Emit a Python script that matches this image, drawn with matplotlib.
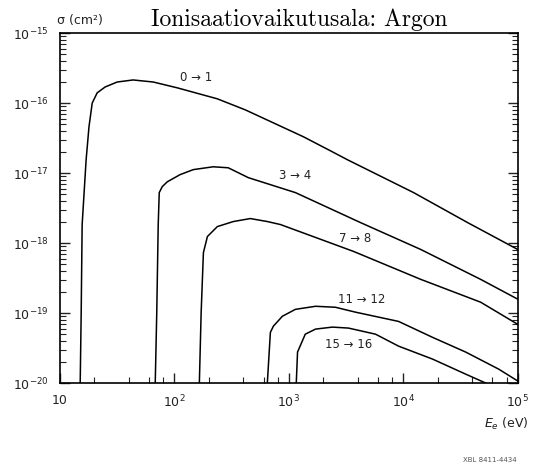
import matplotlib.pyplot as plt
from matplotlib.ticker import LogLocator, NullFormatter, FixedLocator
import numpy as np

# electron energy (eV) and cross section (cm^2)
E_01 = [15.0, 15.3, 15.6, 16.9, 17.9, 19.1, 21.1, 24.8, 31.6, 43.5, 65.2, 106, 237,
        416, 762, 1340, 2220, 3250, 12300, 36500, 1e5]
s_01 = [1e-20, 1.0e-19, 1.84e-18, 1.55e-17, 4.58e-17, 1.0e-16, 1.40e-16, 1.70e-16,
        2.0e-16, 2.14e-16, 2.0e-16, 1.65e-16, 1.15e-16, 8.0e-17, 5.06e-17, 3.3e-17,
        2.15e-17, 1.55e-17, 5.26e-18, 1.96e-18, 8.1e-19]

E_34 = [67.9, 70.0, 72.1, 73.6, 78.2, 86.5, 112, 146, 218, 295, 442, 1140, 4230,
        14200, 47400, 1e5]
s_34 = [1e-20, 1.0e-19, 1.84e-18, 5.26e-18, 6.4e-18, 7.5e-18, 9.5e-18, 1.12e-17,
        1.23e-17, 1.19e-17, 8.6e-18, 5.26e-18, 1.96e-18, 8.1e-19, 3.03e-19, 1.58e-19]

E_78 = [165, 171, 179, 194, 237, 327, 460, 648, 843, 3670, 14200, 47400, 1e5]
s_78 = [1e-20, 1.0e-19, 7.3e-19, 1.24e-18, 1.72e-18, 2.03e-18, 2.24e-18, 2.03e-18,
        1.84e-18, 7.6e-19, 3.03e-19, 1.43e-19, 6.9e-20]

E_1112 = [648, 689, 732, 877, 1140, 1710, 2550, 3820, 9080, 18000, 35100, 68200, 1e5]
s_1112 = [1e-20, 5.3e-20, 6.5e-20, 9.0e-20, 1.13e-19, 1.25e-19, 1.21e-19, 1.03e-19,
          7.6e-20, 4.5e-20, 2.77e-20, 1.58e-20, 1.07e-20]

E_1516 = [1160, 1190, 1390, 1710, 2400, 3320, 5720, 9080, 18000, 35100, 52500]
s_1516 = [1e-20, 2.77e-20, 4.99e-20, 5.9e-20, 6.3e-20, 6.1e-20, 4.99e-20, 3.37e-20,
          2.2e-20, 1.34e-20, 1e-20]

labels = ['0 → 1', '3 → 4', '7 → 8', '11 → 12', '15 → 16']
label_E = [155, 1140, 3820, 4320, 3320]
label_s = [2.3e-16, 9.2e-18, 1.16e-18, 1.58e-19, 3.6e-20]

fig = plt.figure(figsize=(5.41, 4.66), dpi=100)
ax = fig.add_axes([0.111, 0.178, 0.846, 0.751])

for E, s in [(E_01, s_01), (E_34, s_34), (E_78, s_78), (E_1112, s_1112), (E_1516, s_1516)]:
    ax.plot(E, s, color='black', lw=1.1)

for lab, e, s in zip(labels, label_E, label_s):
    ax.text(e, s, lab, ha='center', va='center', fontsize=8.5, color='#222222')

ax.set_xscale('log')
ax.set_yscale('log')
ax.set_xlim(10, 1e5)
ax.set_ylim(1e-20, 1e-15)

ax.xaxis.set_major_locator(FixedLocator([10, 1e2, 1e3, 1e4, 1e5]))
ax.set_xticklabels(['10', '$10^{2}$', '$10^{3}$', '$10^{4}$', '$10^{5}$'])
ax.xaxis.set_minor_locator(LogLocator(base=10, subs=(2, 4, 6, 8), numticks=20))
ax.xaxis.set_minor_formatter(NullFormatter())

ax.yaxis.set_major_locator(FixedLocator([1e-20, 1e-19, 1e-18, 1e-17, 1e-16, 1e-15]))
ax.set_yticklabels(['$10^{-20}$', '$10^{-19}$', '$10^{-18}$', '$10^{-17}$',
                    '$10^{-16}$', '$10^{-15}$'])
ax.yaxis.set_minor_locator(LogLocator(base=10, subs=np.arange(2, 10), numticks=20))
ax.yaxis.set_minor_formatter(NullFormatter())

ax.tick_params(which='both', direction='in', left=True, right=True, bottom=True,
               top=False, labelsize=9, colors='#222222')
ax.tick_params(which='major', length=7, width=1.0, pad=8)
ax.tick_params(which='minor', length=4, width=0.8)
for sp in ax.spines.values():
    sp.set_linewidth(1.2)

fig.text(0.148, 0.957, 'σ (cm²)', fontsize=9, ha='center', va='center', color='#222222')
fig.text(0.554, 0.958, 'Ionisaatiovaikutusala: Argon', fontsize=17, family='cmr10',
         ha='center', va='center')
fig.text(0.935, 0.090, '$E_e$ (eV)', fontsize=9, ha='center', va='center', color='#222222')
fig.text(0.905, 0.013, 'XBL 8411-4434', fontsize=5, ha='center', va='center', color='#555555')

plt.savefig('out.png', dpi=100)
